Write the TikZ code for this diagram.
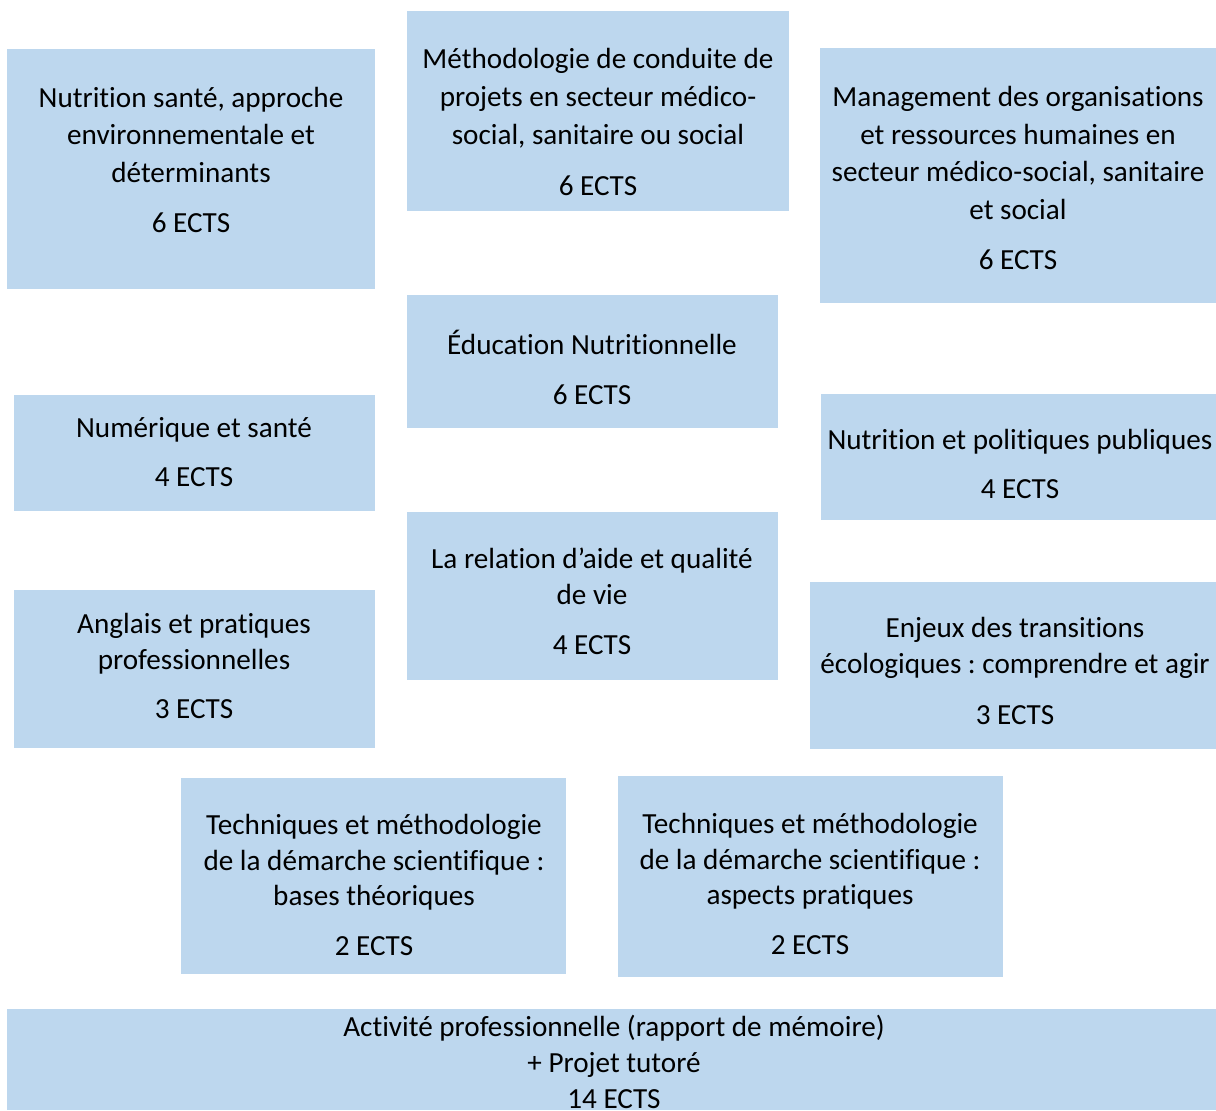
\documentclass[tikz,border=0pt]{standalone}
\usepackage{fontspec}
\setmainfont{Carlito}[Ligatures=NoCommon]
\usepackage{tikz}
\frenchspacing
\definecolor{ueblue}{HTML}{BDD7EE}
\tikzset{
	ue/.style={fill=ueblue},
	ects/.style={align=center, inner sep=0pt, font=\fontsize{16.6}{21.5}\selectfont},
	ectsb/.style={ects, font=\fontsize{16.6}{20.4}\selectfont}
}

\begin{document}
\begin{tikzpicture}[x=0.02cm, y=-0.02cm]
			%%%%% START %%%%%
			\useasboundingbox (0, 0) rectangle (1216, 1110);
			
			% top row
			\fill[ue] (7, 49) rectangle (375, 289);
			\node[ects] (nutsante) at (191, 160) {Nutrition santé, approche\\environnementale et\\déterminants\\[7pt]6 ECTS};
			
			\fill[ue] (407, 11) rectangle (789, 211);
			\node[ects] (methodo) at (598, 122) {Méthodologie de conduite de\\projets en secteur médico-\\social, sanitaire ou social\\[7.5pt]6 ECTS};
			
			\fill[ue] (820, 48) rectangle (1216, 303);
			\node[ects] (manage) at (1018, 178) {Management des organisations\\et ressources humaines en\\secteur médico-social, sanitaire\\et social\\[7pt]6 ECTS};
			
			% middle
			\fill[ue] (407, 295) rectangle (778, 428);
			\node[ects] (educ) at (592, 367) {Éducation Nutritionnelle\\[7pt]6 ECTS};
			
			\fill[ue] (14, 395) rectangle (375, 511);
			\node[ects] (numerique) at (194, 452) {Numérique et santé\\[6.5pt]4 ECTS};
			
			\fill[ue] (821, 394) rectangle (1216, 520);
			\node[ects] (politiques) at (1020, 464) {Nutrition et politiques publiques\\[6.5pt]4 ECTS};
			
			\fill[ue] (407, 512) rectangle (778, 680);
			\node[ectsb] (relation) at (592, 601) {La relation d’aide et qualité\\de vie\\[8pt]4 ECTS};
			
			\fill[ue] (14, 590) rectangle (375, 748);
			\node[ectsb] (anglais) at (194, 666) {Anglais et pratiques\\professionnelles\\[8pt]3 ECTS};
			
			\fill[ue] (810, 582) rectangle (1216, 749);
			\node[ectsb] (enjeux) at (1015, 671) {Enjeux des transitions\\écologiques : comprendre et agir\\[8.5pt]3 ECTS};
			
			% lower row
			\fill[ue] (181, 778) rectangle (566, 974);
			\node[ectsb] (theorie) at (374, 885) {Techniques et méthodologie\\de la démarche scientifique :\\bases théoriques\\[8pt]2 ECTS};
			
			\fill[ue] (618, 776) rectangle (1003, 977);
			\node[ectsb] (pratique) at (810, 884) {Techniques et méthodologie\\de la démarche scientifique :\\aspects pratiques\\[8pt]2 ECTS};
			
			\fill[ue] (7, 1009) rectangle (1216, 1110);
			\node[ectsb] (activite) at (614, 1062) {Activité professionnelle (rapport de mémoire)\\+ Projet tutoré\\14 ECTS};
			
			%%%%% END %%%%%
		\end{tikzpicture}
\end{document}
